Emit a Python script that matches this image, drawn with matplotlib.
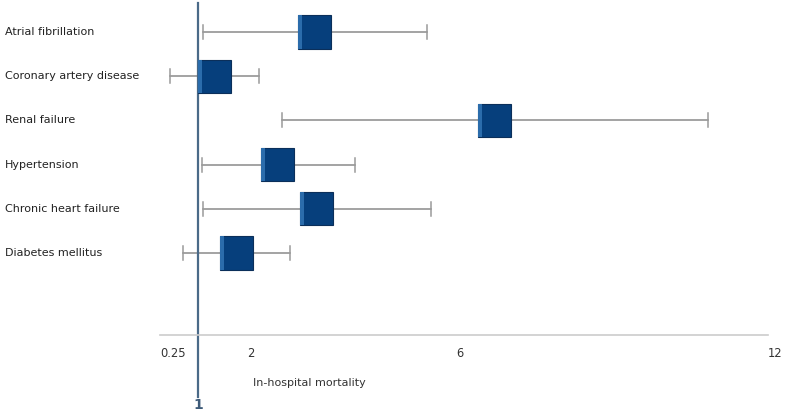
import matplotlib.pyplot as plt
from matplotlib.patches import Rectangle

# odds ratios with 95% CI
factors = ["Atrial fibrillation", "Coronary artery disease", "Renal failure",
           "Hypertension", "Chronic heart failure", "Diabetes mellitus"]
odds = [3.22, 1.31, 6.65, 2.52, 3.26, 1.73]
ci_low = [1.10, 0.47, 2.60, 1.08, 1.10, 0.71]
ci_high = [5.37, 2.16, 10.72, 3.99, 5.44, 2.76]
tick_vals = [0.25, 2, 6, 12]
tick_labels = ["0.25", "2", "6", "12"]

fig = plt.figure(figsize=(7.87, 4.16), dpi=100)
ax = fig.add_axes([160 / 787, 81 / 416, 608 / 787, 332 / 416])
ax.set_xlim(0.276, 11.868)
ax.set_ylim(6.855, -0.656)

box_w = 0.63
box_h = 0.75
cap_h = 0.32
for i, (o, lo, hi) in enumerate(zip(odds, ci_low, ci_high)):
    ax.plot([lo, hi], [i, i], color='#8a8a8a', lw=1.1, zorder=1)
    for x in (lo, hi):
        ax.plot([x, x], [i - cap_h / 2, i + cap_h / 2], color='#9a9a9a', lw=1.1, zorder=1)
    ax.add_patch(Rectangle((o - box_w / 2, i - box_h / 2), box_w, box_h,
                           facecolor='#063f7c', edgecolor='#0b2f5a', lw=0.8, zorder=3))
    ax.add_patch(Rectangle((o - box_w / 2, i - box_h / 2), 0.08, box_h,
                           facecolor='#2b6cab', edgecolor='none', zorder=4))
    ax.text(-0.255, i, factors[i], transform=ax.get_yaxis_transform(),
            ha='left', va='center', fontsize=8, color='#222222')

# reference line at OR = 1
ax.axvline(1, ymin=-0.187, ymax=1.0, color='#4a6a88', lw=1.6, clip_on=False, zorder=2)
ax.text(1, -0.21, "1", transform=ax.get_xaxis_transform(), ha='center', va='center',
        fontsize=10, fontweight='bold', color='#3d5a78')

for s in ['top', 'right', 'left']:
    ax.spines[s].set_visible(False)
ax.spines['bottom'].set_color('#cccccc')
ax.spines['bottom'].set_linewidth(1.2)
ax.set_yticks([])
ax.set_xticks([])
for v, lab in zip(tick_vals, tick_labels):
    ha = 'left' if v == tick_vals[0] else 'center'
    ax.text(v if v != tick_vals[0] else 0.276, -0.055, lab,
            transform=ax.get_xaxis_transform(), ha=ha, va='center',
            fontsize=8.3, color='#333333', clip_on=False)

ax.text(2.05, -0.145, "In-hospital mortality", transform=ax.get_xaxis_transform(),
        ha='left', va='center', fontsize=8, color='#333333')

fig.savefig("out.png", dpi=100)
